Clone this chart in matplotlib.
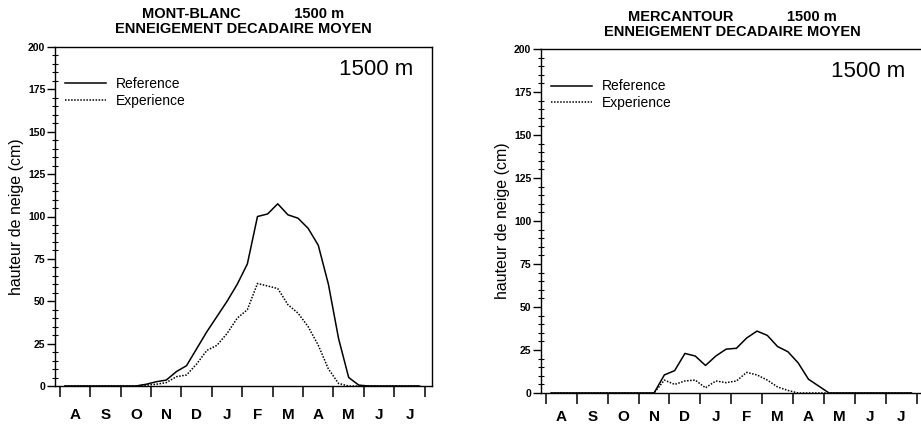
import numpy as np
import matplotlib
matplotlib.use("Agg")
import matplotlib.pyplot as plt
from matplotlib.ticker import MultipleLocator

plt.rcParams['font.family'] = ['Liberation Sans', 'DejaVu Sans']

months = ['A', 'S', 'O', 'N', 'D', 'J', 'F', 'M', 'A', 'M', 'J', 'J']

# snow depth (cm) per decade (10-day period), Aug 1st decade -> Jul 3rd decade
ref_mb = [0, 0, 0, 0, 0, 0, 0, 0, 1, 2.5, 3.5, 8.5, 12, 22, 32, 41, 50, 60,
          72, 100, 101.5, 107.5, 101, 99, 93, 83, 60, 28, 5, 0.5, 0, 0, 0, 0, 0, 0]
exp_mb = [0, 0, 0, 0, 0, 0, 0, 0, 0.5, 1, 2, 5.5, 6.5, 13, 21, 24, 31, 40,
          45, 60.5, 59, 57.5, 48, 43, 35, 24, 10, 1.5, 0, 0, 0, 0, 0, 0, 0, 0]
ref_me = [0, 0, 0, 0, 0, 0, 0, 0, 0, 0, 0, 10.5, 13, 23, 21.5, 16, 21.5, 25.5,
          26, 32, 36, 33.5, 27, 24, 17.5, 8, 4, 0, 0, 0, 0, 0, 0, 0, 0, 0]
exp_me = [0, 0, 0, 0, 0, 0, 0, 0, 0, 0, 0, 7.5, 5, 7, 7.5, 3, 7, 6,
          7, 12, 10.5, 7.5, 3.5, 1.5, 0, 0, 0, 0, 0, 0, 0, 0, 0, 0, 0, 0]

decades = (np.arange(36) + 0.5) / 3.0

W, H = 921, 433
fig = plt.figure(figsize=(W / 100, H / 100), dpi=100)

def panel(rect, ref, exp, site, label_pad, title_pad):
    ax = fig.add_axes([rect[0] / W, 1 - rect[3] / H, (rect[2] - rect[0]) / W,
                       (rect[3] - rect[1]) / H])
    ax.plot(decades, ref, color='black', lw=1.1, label='Reference')
    ax.plot(decades, exp, color='black', lw=1.1, ls=(0, (1, 1)), label='Experience')
    ax.set_xlim(-0.16, 12.24)
    ax.set_ylim(0, 200)
    ax.set_xticks(range(13))
    ax.set_xticklabels([])
    ax.set_xticks(np.arange(12) + 0.5, minor=True)
    ax.set_xticklabels(months, minor=True, fontsize=11, fontweight='bold')
    ax.tick_params(axis='x', which='major', direction='out', length=8, width=1.1)
    ax.tick_params(axis='x', which='minor', length=0, pad=label_pad)
    ax.yaxis.set_major_locator(MultipleLocator(25))
    ax.yaxis.set_minor_locator(MultipleLocator(5))
    ax.tick_params(axis='y', which='major', direction='out', length=6, width=1,
                   labelsize=7.5, pad=1)
    ax.tick_params(axis='y', which='minor', direction='inout', length=4, width=0.8)
    for t in ax.get_yticklabels():
        t.set_fontweight('bold')
    for s in ax.spines.values():
        s.set_linewidth(1.0)
    ax.set_ylabel('hauteur de neige (cm)', fontsize=11.5, labelpad=3)
    ax.set_title(site + '             1500 m\nENNEIGEMENT DECADAIRE MOYEN',
                 fontsize=10.5, fontweight='bold', pad=title_pad, linespacing=1.12)
    ax.text(0.95, 0.935, '1500 m', transform=ax.transAxes, fontsize=16,
            ha='right', va='center')
    ax.legend(loc='upper left', bbox_to_anchor=(0.0, 0.94), frameon=False,
              fontsize=10, handlelength=3.0, handletextpad=0.7,
              labelspacing=0.2, borderaxespad=0.3)
    return ax

panel((55, 47, 432, 386), ref_mb, exp_mb, 'MONT-BLANC', 16, 10)
panel((541, 49, 924, 393), ref_me, exp_me, 'MERCANTOUR', 12, 9)

fig.savefig('out.png', dpi=100)
